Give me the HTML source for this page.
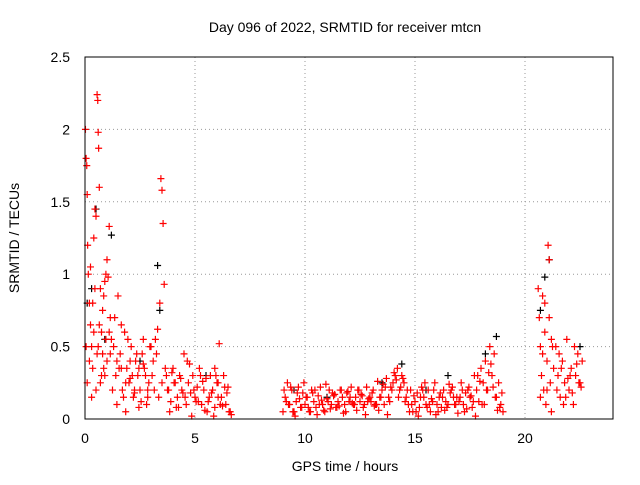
<!DOCTYPE html>
<html><head><meta charset="utf-8"><style>
body{margin:0;background:#fff;}
svg text{font-family:"Liberation Sans",sans-serif;font-size:14px;fill:#000;}
</style></head><body>
<svg id="chart" width="640" height="480" xmlns="http://www.w3.org/2000/svg">
<rect width="640" height="480" fill="#fff"/>
<text x="345" y="32" text-anchor="middle">Day 096 of 2022, SRMTID for receiver mtcn</text>
<text x="345" y="471" text-anchor="middle">GPS time / hours</text>
<text transform="translate(19,238) rotate(-90)" text-anchor="middle">SRMTID / TECUs</text>
<g id="grid"></g><g id="black"></g><g id="red"></g>
<rect x="85" y="57" width="528" height="362" fill="none" stroke="#000"/>
</svg>
<script>
const xTicks=[0,5,10,15,20];
const yTicks=[0,0.5,1,1.5,2,2.5];
const yTickLabels=["0","0.5","1","1.5","2","2.5"];
const redT=[0.02,0.05,0.08,0.1,0.12,0.15,0.2,0.25,0.3,0.35,0.4,0.45,0.5,0.55,0.58,0.6,0.62,0.65,0.7,0.75,0.8,0.85,0.9,0.95,1.0,1.05,1.1,1.15,1.2,0.3,0.5,0.7,0.9,0.2,0.1,0.4,0.6,0.8,0.05,0.25,0.45,0.65,0.85,1.0,1.1,
1.3,1.4,1.5,1.6,1.7,1.8,1.9,2.0,2.1,2.2,2.3,2.4,2.5,2.6,2.7,2.8,2.9,1.35,1.55,1.75,1.95,2.15,2.35,2.55,2.75,2.95,1.45,1.65,1.85,2.05,2.25,2.45,2.65,2.85,
3.0,3.1,3.2,3.3,3.4,3.45,3.5,3.55,3.6,3.05,3.15,3.25,3.35,3.5,
3.7,3.8,3.9,4.0,4.1,4.2,4.3,4.4,4.5,4.6,4.7,4.8,4.9,5.0,5.1,5.2,5.3,5.4,5.5,5.6,5.7,5.8,5.9,6.0,6.1,6.2,6.3,6.4,6.5,6.6,3.75,3.95,4.15,4.35,4.55,4.75,4.95,5.15,5.35,5.55,5.75,5.95,6.15,6.35,6.55,5.9,6.05,
9.0,9.1,9.2,9.3,9.4,9.5,9.6,9.7,9.8,9.9,10.0,10.1,10.2,10.3,10.4,10.5,10.6,10.7,10.8,10.9,11.0,11.1,11.2,11.3,11.4,11.5,11.6,11.7,11.8,11.9,12.0,12.1,12.2,12.3,12.4,12.5,12.6,12.7,12.8,12.9,13.0,13.1,13.2,13.3,13.4,13.5,13.6,13.7,13.8,13.9,14.0,14.1,14.2,14.3,14.4,14.5,14.6,14.7,14.8,14.9,15.0,15.1,15.2,15.3,15.4,15.5,15.6,15.7,15.8,15.9,16.0,16.1,16.2,16.3,16.4,16.5,16.6,16.7,16.8,16.9,17.0,17.1,17.2,17.3,17.4,17.5,17.6,17.7,17.8,17.9,18.0,18.1,18.2,18.3,18.4,18.5,18.6,18.7,18.8,18.9,19.0,
9.05,9.25,9.45,9.65,9.85,10.05,10.25,10.45,10.65,10.85,11.05,11.25,11.45,11.65,11.85,12.05,12.25,12.45,12.65,12.85,13.05,13.25,13.45,13.65,13.85,14.05,14.25,14.45,14.65,14.85,15.05,15.25,15.45,15.65,15.85,16.05,16.25,16.45,16.65,16.85,17.05,17.25,17.45,17.65,17.85,18.05,18.25,18.45,18.65,18.85,
9.15,9.35,9.55,9.75,9.95,10.15,10.35,10.55,10.75,10.95,11.15,11.35,11.55,11.75,11.95,12.15,12.35,12.55,12.75,12.95,13.15,13.35,13.55,13.75,13.95,14.15,14.35,14.55,14.75,14.95,15.15,15.35,15.55,15.75,15.95,16.15,16.35,16.55,16.75,16.95,17.15,17.35,17.55,17.75,17.95,18.15,18.35,18.55,18.75,18.95,
1.25,1.45,1.65,1.85,2.05,2.25,2.45,2.65,2.85,3.65,3.85,4.05,4.25,4.45,4.65,4.85,5.05,5.25,5.45,5.65,5.85,6.05,6.25,6.45,6.65,0.35,0.55,0.75,0.95,1.15,
20.6,20.65,20.7,20.75,20.8,20.85,20.9,20.95,21.0,21.05,21.1,21.15,21.2,21.25,21.3,20.7,20.8,20.9,21.0,21.1,21.2,
21.4,21.5,21.6,21.7,21.8,21.9,22.0,22.1,22.2,22.3,22.4,22.5,22.6,21.45,21.65,21.85,22.05,22.25,22.45,21.55,21.75,21.95,22.15,22.35,22.55];
const redV=[2.0,1.8,1.75,1.55,1.2,1.0,0.8,0.65,0.5,0.35,1.25,1.45,1.4,2.24,2.2,1.98,1.87,1.6,0.9,0.6,0.45,0.35,0.95,1.0,1.1,0.98,1.33,0.7,0.55,0.15,0.2,0.25,0.3,0.4,0.25,0.6,0.5,0.75,0.5,1.05,0.9,0.65,0.85,0.4,0.6,
0.5,0.3,0.85,0.45,0.2,0.6,0.35,0.25,0.5,0.15,0.4,0.3,0.2,0.45,0.35,0.1,0.25,0.7,0.35,0.15,0.55,0.3,0.45,0.12,0.3,0.5,0.4,0.65,0.25,0.4,0.2,0.35,0.55,0.2,
0.5,0.4,0.55,0.62,0.8,1.66,1.58,1.35,0.93,0.3,0.2,0.45,0.15,0.25,
0.3,0.2,0.12,0.35,0.25,0.15,0.3,0.2,0.45,0.1,0.25,0.18,0.3,0.15,0.22,0.35,0.1,0.2,0.28,0.12,0.3,0.2,0.08,0.25,0.52,0.15,0.3,0.1,0.22,0.05,0.2,0.32,0.08,0.28,0.15,0.38,0.2,0.12,0.26,0.05,0.18,0.3,0.1,0.22,0.05,0.35,0.15,
0.05,0.15,0.25,0.1,0.2,0.05,0.12,0.22,0.08,0.18,0.1,0.15,0.05,0.2,0.12,0.08,0.16,0.22,0.1,0.05,0.14,0.2,0.1,0.16,0.08,0.12,0.2,0.15,0.1,0.18,0.12,0.22,0.1,0.15,0.2,0.12,0.16,0.1,0.22,0.14,0.12,0.2,0.1,0.26,0.15,0.2,0.1,0.28,0.15,0.22,0.25,0.3,0.35,0.2,0.3,0.25,0.15,0.1,0.2,0.05,0.12,0.18,0.08,0.22,0.15,0.1,0.2,0.05,0.12,0.25,0.1,0.15,0.08,0.2,0.12,0.1,0.18,0.22,0.1,0.15,0.12,0.25,0.1,0.18,0.2,0.15,0.08,0.3,0.2,0.12,0.35,0.25,0.4,0.2,0.5,0.3,0.45,0.15,0.25,0.1,0.05,
0.2,0.1,0.05,0.18,0.08,0.15,0.05,0.2,0.1,0.06,0.12,0.18,0.08,0.2,0.05,0.15,0.1,0.2,0.08,0.12,0.18,0.1,0.15,0.22,0.12,0.32,0.15,0.28,0.2,0.1,0.05,0.15,0.25,0.1,0.2,0.05,0.15,0.08,0.2,0.1,0.15,0.05,0.22,0.12,0.3,0.1,0.2,0.38,0.15,0.08,
0.12,0.22,0.02,0.14,0.25,0.08,0.18,0.03,0.13,0.24,0.07,0.17,0.09,0.04,0.19,0.11,0.06,0.17,0.03,0.15,0.09,0.06,0.24,0.03,0.2,0.27,0.22,0.12,0.05,0.16,0.02,0.2,0.08,0.14,0.03,0.18,0.06,0.24,0.15,0.04,0.2,0.07,0.16,0.02,0.26,0.1,0.32,0.22,0.06,0.18,
0.2,0.1,0.35,0.05,0.28,0.18,0.08,0.38,0.15,0.35,0.05,0.25,0.08,0.18,0.4,0.02,0.12,0.3,0.06,0.15,0.02,0.25,0.09,0.18,0.03,0.8,0.45,0.3,0.55,0.45,
0.9,0.7,0.5,0.3,0.85,0.2,0.6,0.1,0.4,1.2,1.1,0.25,0.05,0.5,0.35,0.15,0.45,0.8,0.2,0.7,0.55,
0.5,0.3,0.15,0.4,0.25,0.55,0.2,0.35,0.1,0.3,0.45,0.25,0.4,0.2,0.35,0.15,0.3,0.5,0.25,0.45,0.1,0.28,0.18,0.38,0.22];
const blackT=[0.1,0.3,0.5,0.9,1.2,3.3,3.4,9.5,11.0,13.5,14.4,15.5,16.5,18.2,18.7,20.7,20.9,21.1,22.5,2.5,5.5];
const blackV=[0.8,0.9,1.45,0.55,1.27,1.06,0.75,0.2,0.15,0.25,0.38,0.2,0.3,0.45,0.57,0.75,0.98,1.1,0.5,0.4,0.3];
const X=t=>85+t*22, Y=v=>419-v*144.8;
const NS="http://www.w3.org/2000/svg";
const grid=document.getElementById('grid');
function mk(tag,attrs,parent){const e=document.createElementNS(NS,tag);for(const k in attrs)e.setAttribute(k,attrs[k]);parent.appendChild(e);return e;}
xTicks.forEach(t=>{
 const l=mk('line',{x1:X(t),x2:X(t),y1:57,y2:419,stroke:'#999','stroke-dasharray':'1,3'},grid);
 
 
 const tx=mk('text',{x:X(t),y:443,'text-anchor':'middle'},grid);tx.textContent=t;
 
 
});
yTicks.forEach((v,i)=>{
 const l=mk('line',{x1:85,x2:613,y1:Y(v),y2:Y(v),stroke:'#999','stroke-dasharray':'1,3'},grid);
 
 
 const tx=mk('text',{x:70,y:Y(v)+5,'text-anchor':'end'},grid);tx.textContent=yTickLabels[i];
 
 
});
function plus(g,t,v,c){const x=X(t),y=Y(v);
 return mk('path',{d:`M${x-3.5},${y}H${x+3.5}M${x},${y-3.5}V${y+3.5}`,stroke:c,'stroke-width':1.2,fill:'none'},g);}
const bg=document.getElementById('black');
blackT.forEach((t,i)=>{const p=plus(bg,t,blackV[i],'#000');
 
 });
const rg=document.getElementById('red');
redT.forEach((t,i)=>{const p=plus(rg,t,redV[i],'#f00');
 
 });
</script>
</body></html>
